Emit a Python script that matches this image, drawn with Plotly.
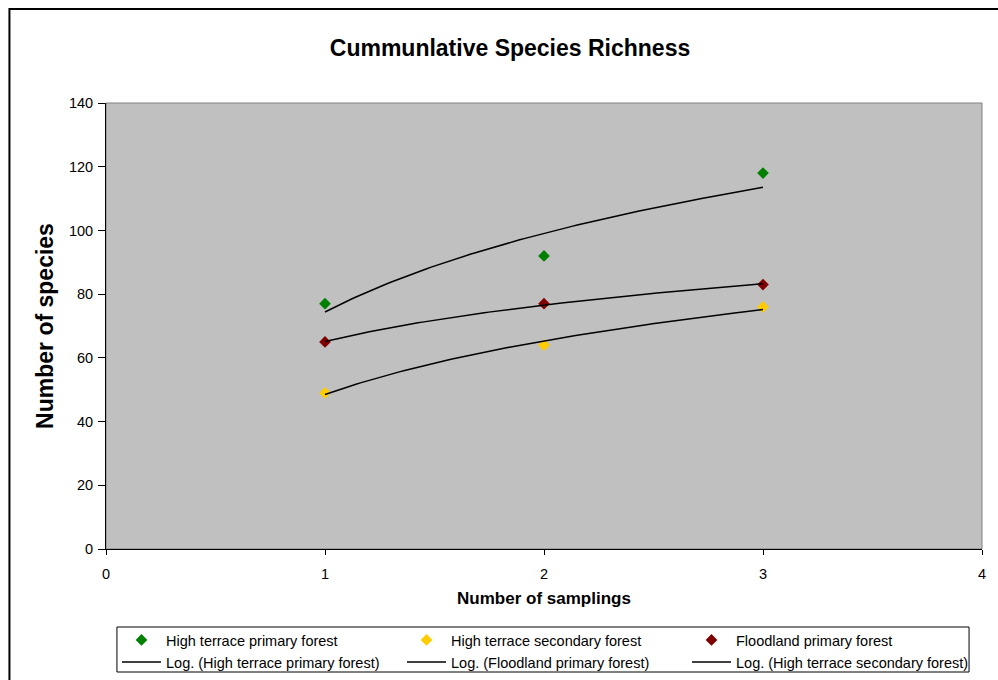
import numpy as np
import plotly.graph_objects as go

samplings = [1, 2, 3]
ht_primary = [77, 92, 118]
ht_secondary = [49, 64, 76]
flood_primary = [65, 77, 83]

names = ["High terrace primary forest", "High terrace secondary forest", "Floodland primary forest"]
colors = ["#008000", "#FFCC00", "#800000"]
series = [ht_primary, ht_secondary, flood_primary]

FONT = "Arial, Liberation Sans, sans-serif"

fig = go.Figure()
for name, col, ys in zip(names, colors, series):
    fig.add_trace(go.Scatter(x=samplings, y=ys, mode="markers", name=name, legend="legend",
                             marker=dict(symbol="diamond", size=9, color=col)))

def log_fit(xs, ys):
    lx = np.log(np.array(xs, dtype=float))
    a, b = np.polyfit(lx, np.array(ys, dtype=float), 1)
    xx = np.linspace(min(xs), max(xs), 100)
    return xx, a * np.log(xx) + b

for idx in [0, 2, 1]:
    xx, yy = log_fit(samplings, series[idx])
    fig.add_trace(go.Scatter(x=xx, y=yy, mode="lines", name=f"Log. ({names[idx]})",
                             legend="legend2", line=dict(color="black", width=1.5)))

L, R, T, B = 106, 12, 103, 131
W = 998 - L - R
H = 680 - T - B

def px_x(p):
    return (p - L) / W

def px_y(p):
    return (680 - B - p) / H

# plot-area frame (gray)
fig.add_shape(type="rect", xref="paper", yref="paper", x0=0, x1=1, y0=0, y1=1,
              line=dict(color="#808080", width=1), layer="below")
# outer chart border
fig.add_shape(type="rect", xref="paper", yref="paper",
              x0=px_x(9), x1=px_x(1010), y0=px_y(690), y1=px_y(9),
              line=dict(color="black", width=2), fillcolor="rgba(0,0,0,0)")
# legend box
fig.add_shape(type="rect", xref="paper", yref="paper",
              x0=px_x(117), x1=px_x(973), y0=px_y(672), y1=px_y(627),
              line=dict(color="black", width=1), fillcolor="white")

leg_common = dict(orientation="h", xref="container", yref="container",
                  x=117/998, xanchor="left", yanchor="middle",
                  bgcolor="rgba(0,0,0,0)", borderwidth=0,
                  font=dict(size=14.5), entrywidth=231, entrywidthmode="pixels",
                  traceorder="normal", itemwidth=39)

fig.update_layout(
    width=998, height=680,
    margin=dict(l=L, r=R, t=T, b=B),
    paper_bgcolor="white", plot_bgcolor="#C0C0C0",
    font=dict(family=FONT, size=14, color="black"),
    title=dict(text="<b>Cummunlative Species Richness</b>", x=510/998, xanchor="center",
               y=1 - 48/680, yanchor="middle", yref="container", font=dict(size=23)),
    showlegend=True,
    legend=dict(y=1 - 640/680, **leg_common),
    legend2=dict(y=1 - 662/680, **leg_common),
    xaxis=dict(range=[0, 4], dtick=1, tick0=0, showgrid=False, zeroline=False,
               showline=True, linecolor="black", linewidth=1,
               ticks="outside", ticklen=5, tickcolor="black",
               ticklabelstandoff=7, tickfont=dict(size=14.5),
               title=dict(text="<b>Number of samplings</b>", font=dict(size=17), standoff=10)),
    yaxis=dict(range=[0, 140], dtick=20, tick0=0, showgrid=False, zeroline=False,
               showline=True, linecolor="black", linewidth=1,
               ticks="outside", ticklen=7, tickcolor="black",
               ticklabelstandoff=2, tickfont=dict(size=14.5),
               title=dict(text="<b>Number of species</b>", font=dict(size=23), standoff=8)),
)

fig.write_html("out.html", config={"displayModeBar": False},
               post_script="document.body.style.margin='0px';")
